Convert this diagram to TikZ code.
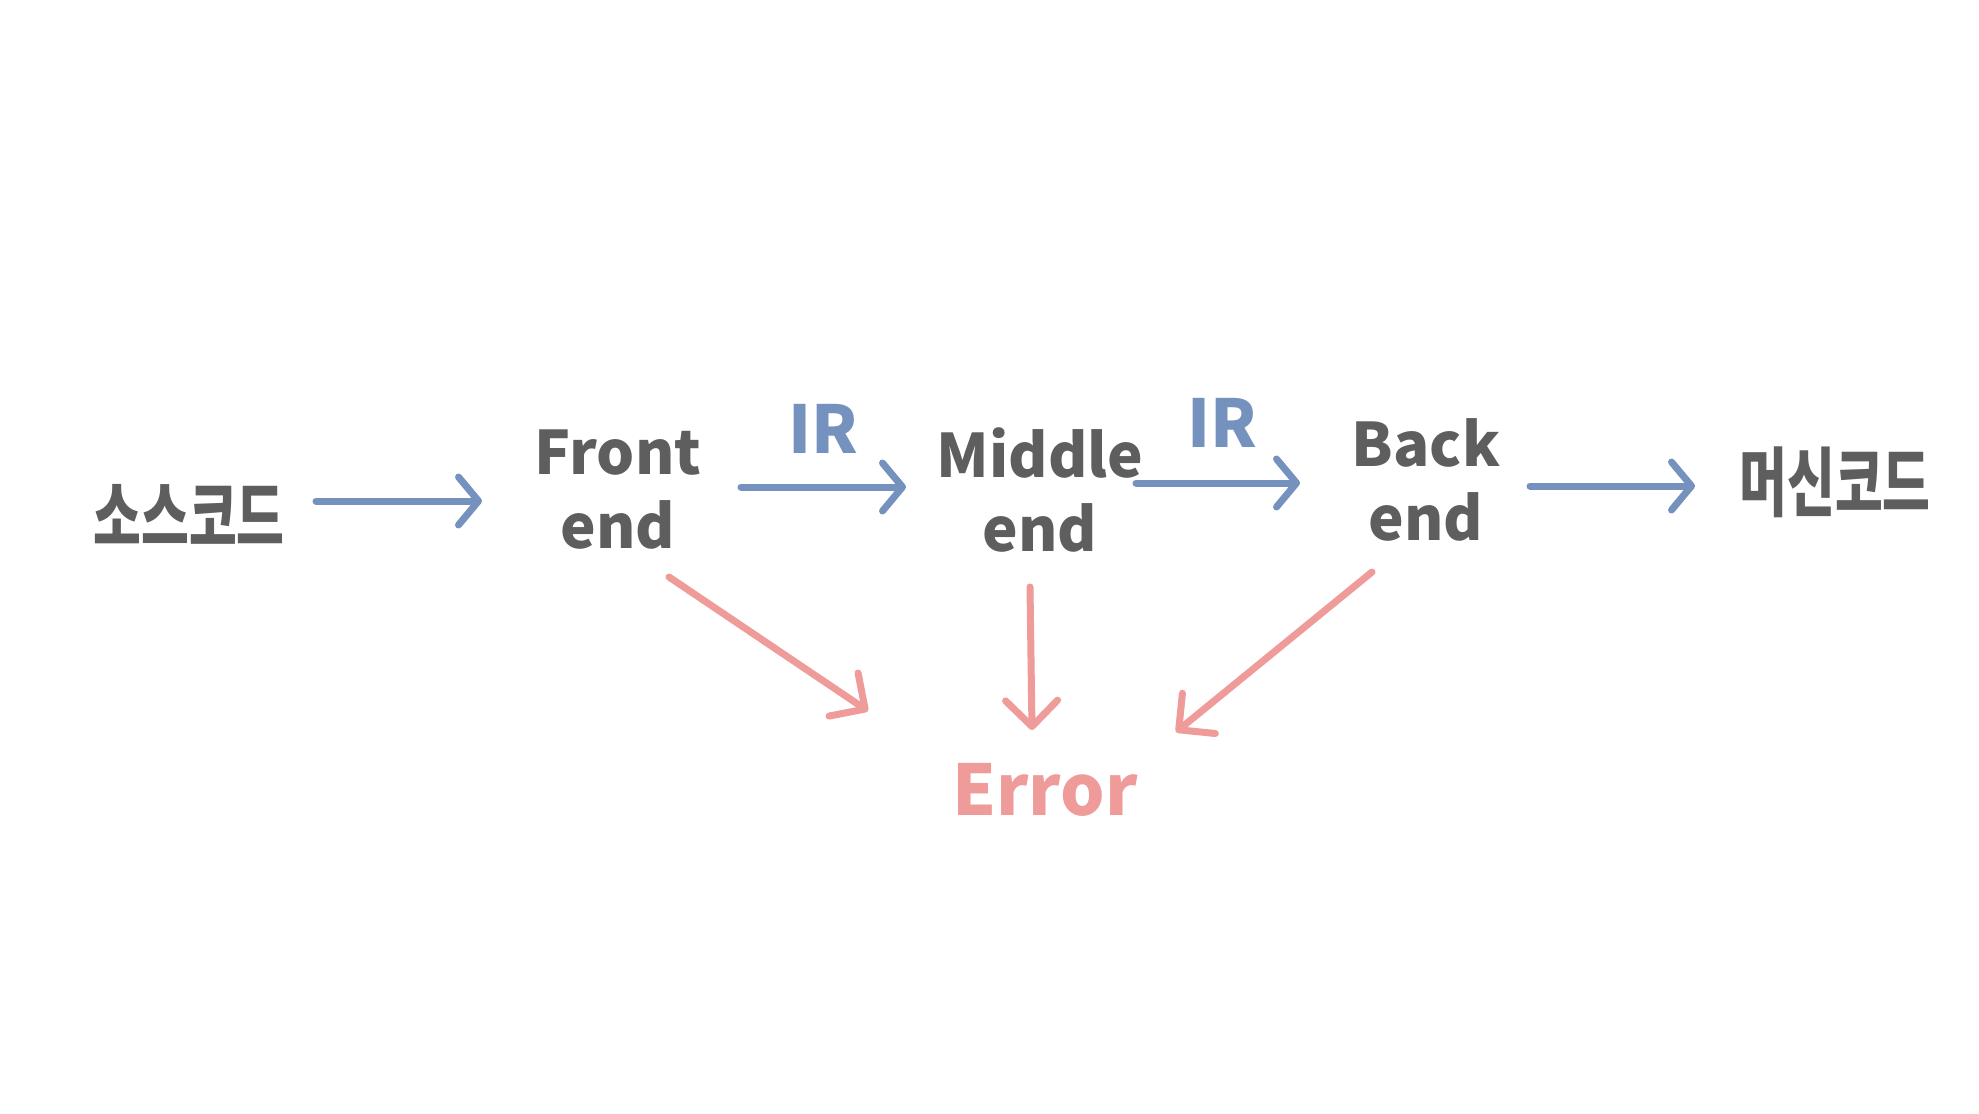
\documentclass[tikz,border=0pt]{standalone}
\usepackage{fontspec}
\setmainfont{Noto Sans CJK KR}
\usetikzlibrary{arrows.meta,calc}
\definecolor{ink}{HTML}{5E5E5E}
\definecolor{irblue}{HTML}{7591BE}
\definecolor{errpink}{HTML}{EE9B9A}
\begin{document}
\begin{tikzpicture}[x=0.5pt,y=-0.5pt,
  lbl/.style={text=ink, font=\fontsize{30}{37}\selectfont\bfseries, align=center, inner sep=0pt},
  kor/.style={text=ink, font=\fontsize{26}{30}\selectfont\bfseries, inner sep=0pt},
  irlbl/.style={text=irblue, font=\fontsize{33}{36}\selectfont\bfseries, inner sep=0pt},
  errlbl/.style={text=errpink, font=\fontsize{35}{40}\selectfont\bfseries, inner sep=0pt},
  flow/.style={draw=irblue, line width=3.5pt, line cap=round, -{Straight Barb[length=10pt,width=24pt,round]}},
  errflow/.style={draw=errpink, line width=3.5pt, line cap=round, -{Straight Barb[length=13pt,width=26pt,round]}}]
\useasboundingbox[fill=white] (0,0) rectangle (1979,1113);

\node[kor] (src) at (189,514) {\scalebox{1}[1.45]{소스코드}};
\node[lbl] (fe) at (618,490) {Front\\end};
\node[lbl] (me) at (1040,490) {Middle\\end};
\node[lbl] (be) at (1426,480) {Back\\end};
\node[kor] (mc) at (1835,482) {\scalebox{1}[1.45]{머신코드}};
\node[irlbl] (ir1) at (823,429) {IR};
\node[irlbl] (ir2) at (1222,423) {IR};
\node[errlbl] (err) at (1045,790) {Error};

\draw[flow] ($(src)+(127,-13)$) -- ($(fe)+(-136,11)$);
\draw[flow] ($(fe)+(123,-3)$) -- ($(me)+(-134,-3)$);
\draw[flow] ($(me)+(96,-7)$) -- ($(be)+(-126,3)$);
\draw[flow] ($(be)+(104,6)$) -- ($(mc)+(-140,4)$);

\draw[errflow] ($(fe)+(51,87)$) -- ($(err)+(-177,-79)$);
\draw[errflow] ($(me)+(-10,97)$) -- ($(err)+(-13,-60)$);
\draw[errflow] ($(be)+(-54,92)$) -- ($(err)+(131,-58)$);
\end{tikzpicture}
\end{document}
